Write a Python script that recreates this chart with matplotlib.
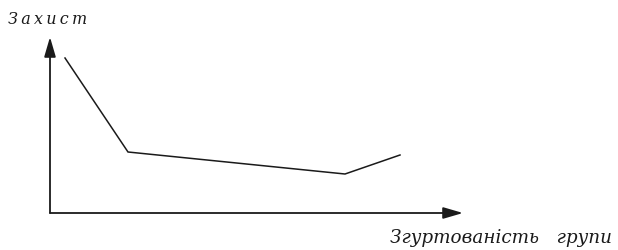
import matplotlib
matplotlib.use("Agg")
import matplotlib.pyplot as plt

# Data (abstract units)
cohesion = [15, 78, 295, 350]
defense = [155, 61, 39, 58]
x_label = "Згуртованість   групи"
y_label = "Захист"

W, H = 618, 250
fig = plt.figure(figsize=(W / 100, H / 100), dpi=100)
ox, oy = 50, 213
ax_w, ax_h = 413, 176
ax = fig.add_axes([ox / W, (H - oy) / H, ax_w / W, ax_h / H])
ax.set_xlim(0, ax_w)
ax.set_ylim(0, ax_h)
for s in ax.spines.values():
    s.set_visible(False)
ax.set_xticks([])
ax.set_yticks([])
ax.patch.set_alpha(0)

ax.plot(cohesion, defense, color="#1a1a1a", lw=1.1, solid_joinstyle="miter")

arrow = dict(arrowstyle="-|>,head_length=1.2,head_width=0.35", color="#1a1a1a", lw=1.3,
             shrinkA=0, shrinkB=0)
ax.annotate("", xy=(0, 1), xytext=(0, 0), xycoords="axes fraction", arrowprops=arrow)
ax.annotate("", xy=(1, 0), xytext=(0, 0), xycoords="axes fraction", arrowprops=arrow)

font = dict(family="DejaVu Serif", style="italic", color="#1a1a1a")
fig.text(8 / W, 1 - 20 / H, "\u2009".join(y_label), fontsize=11.5, ha="left", va="center", **font)
fig.text(612 / W, 1 - 238 / H, x_label, fontsize=13.2, ha="right", va="center", **font)

fig.savefig("out.png", dpi=100)
